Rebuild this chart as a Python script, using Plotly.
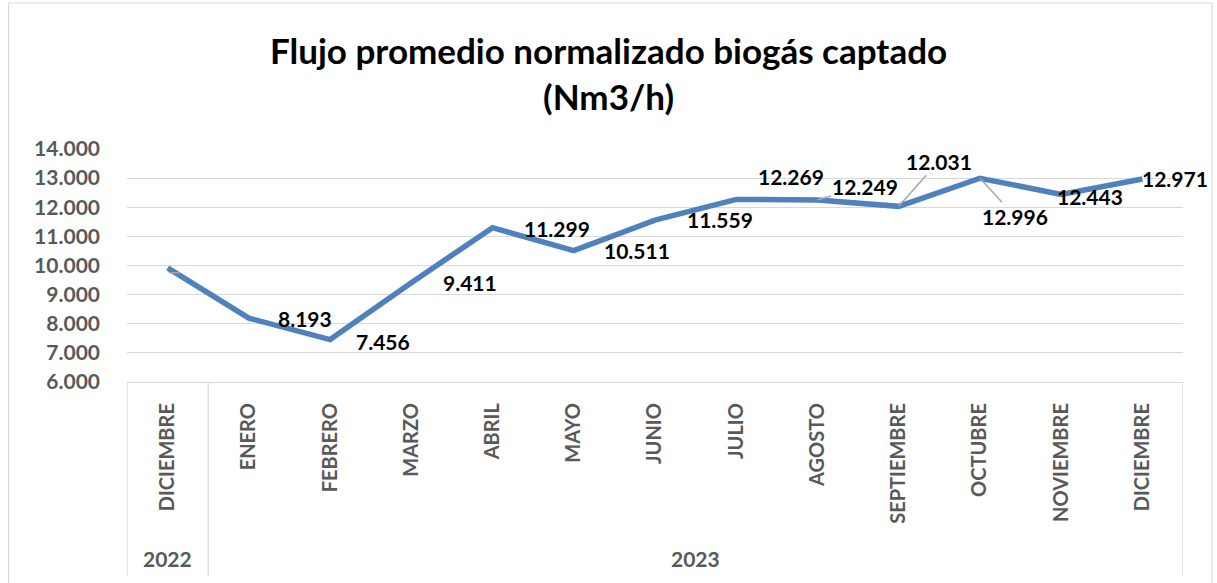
import plotly.graph_objects as go

# ── Datos ─────────────────────────────────────────────────────────────────────
MESES = ["DICIEMBRE", "ENERO", "FEBRERO", "MARZO", "ABRIL", "MAYO", "JUNIO",
         "JULIO", "AGOSTO", "SEPTIEMBRE", "OCTUBRE", "NOVIEMBRE", "DICIEMBRE"]
ANIOS = ["2022", "2023"]
MESES_POR_ANIO = [1, 12]
FLUJO = [9920, 8193, 7456, 9411, 11299, 10511, 11559,
         12269, 12249, 12031, 12996, 12443, 12971]
Y_TICKS = [6000, 7000, 8000, 9000, 10000, 11000, 12000, 13000, 14000]
TITULO = "Flujo promedio normalizado biogás captado<br>(Nm3/h)"

FONT = "Lato"
GRAY_TXT = "#595959"
GRID = "#D9D9D9"
LINE_COLOR = "#4F81BD"

# área de trazado en píxeles (para convertir a coordenadas paper)
W, H = 1217, 583
L, R, T, B = 127, 1183, 149, 382


def px_x(px):
    return (px - L) / (R - L)


def px_y(py):
    return (B - py) / (B - T)


def fmt(v):
    return f"{v:,}".replace(",", ".")


x = list(range(len(MESES)))

fig = go.Figure()
fig.add_trace(go.Scatter(
    x=x, y=FLUJO, mode="lines",
    line=dict(color=LINE_COLOR, width=5.5),
    hoverinfo="skip", showlegend=False,
))

# etiquetas de datos: (dx, dy) desplazamiento del borde izquierdo en px,
# o flecha guía (ax, ay) cuando Excel dibuja línea de guía
label_pos = {
    1: (27, 0), 2: (24, -2), 3: (30, 0), 4: (29, -1), 5: (28, 0),
    6: (30, 1), 7: (20, 23), 11: (-6, -2), 12: (-2, 0),
}
leader_pos = {8: (48, -14), 9: (40, -45), 10: (35, 38)}
label_font = dict(family=FONT, size=21, color="black", weight="bold")

for i, v in enumerate(FLUJO):
    if i in label_pos:
        dx, dy = label_pos[i]
        fig.add_annotation(
            x=i, y=v, text=fmt(v), showarrow=False,
            xanchor="left", yanchor="middle", xshift=dx, yshift=dy,
            font=label_font,
        )
    elif i in leader_pos:
        ax, ay = leader_pos[i]
        fig.add_annotation(
            x=i, y=v, text=fmt(v), showarrow=True, arrowhead=0,
            arrowcolor="#A6A6A6", arrowwidth=1.5, standoff=0,
            ax=ax, ay=ay, font=label_font,
        )

# pequeña guía suelta en el primer punto
fig.add_shape(
    type="line", xref="x", yref="y", xsizemode="pixel", ysizemode="pixel",
    xanchor=0, yanchor=FLUJO[0], x0=1, y0=-5, x1=12, y1=-5,
    line=dict(color="#A6A6A6", width=1.5),
)

# eje de categorías multinivel: separadores y años
bounds = [-0.5]
for n in MESES_POR_ANIO:
    bounds.append(bounds[-1] + n)
for b in bounds:
    fig.add_shape(
        type="line", xref="x", yref="paper", x0=b, x1=b, y0=0, y1=px_y(576),
        line=dict(color=GRID, width=1.2),
    )
for k, anio in enumerate(ANIOS):
    fig.add_annotation(
        x=(bounds[k] + bounds[k + 1]) / 2, y=px_y(558), xref="x", yref="paper",
        text=anio, showarrow=False, yanchor="middle",
        font=dict(family=FONT, size=21, color=GRAY_TXT, weight="bold"),
    )

# título
fig.add_annotation(
    x=px_x(W / 2), y=px_y(73), xref="paper", yref="paper",
    text=TITULO, showarrow=False, xanchor="center", yanchor="middle",
    font=dict(family=FONT, size=35, color="black", weight="bold"),
)

# borde del gráfico
fig.add_shape(
    type="rect", xref="paper", yref="paper",
    x0=px_x(8.5), x1=px_x(1212), y0=px_y(600), y1=px_y(3),
    line=dict(color=GRID, width=1.2),
)

fig.update_layout(
    width=W, height=H,
    margin=dict(l=L, r=W - R, t=T, b=H - B),
    plot_bgcolor="white", paper_bgcolor="white",
    separators=",.",
)
fig.update_xaxes(
    range=[-0.5, len(MESES) - 0.5], tickvals=x, ticktext=MESES,
    tickangle=-90, showgrid=False, zeroline=False,
    showline=True, linecolor=GRID, linewidth=1.2,
    ticklabelstandoff=12,
    tickfont=dict(family=FONT, size=20, color=GRAY_TXT, weight="bold"),
)
fig.update_yaxes(
    range=[6000, 14000], tickvals=Y_TICKS, tickformat=",.0f",
    showgrid=True, gridcolor=GRID, gridwidth=1.2, zeroline=False,
    showline=False, ticklabelstandoff=26,
    tickfont=dict(family=FONT, size=21, color=GRAY_TXT, weight="bold"),
)

fig.write_html(
    "out.html",
    config={"displayModeBar": False},
    post_script="document.body.style.margin='0';",
)
